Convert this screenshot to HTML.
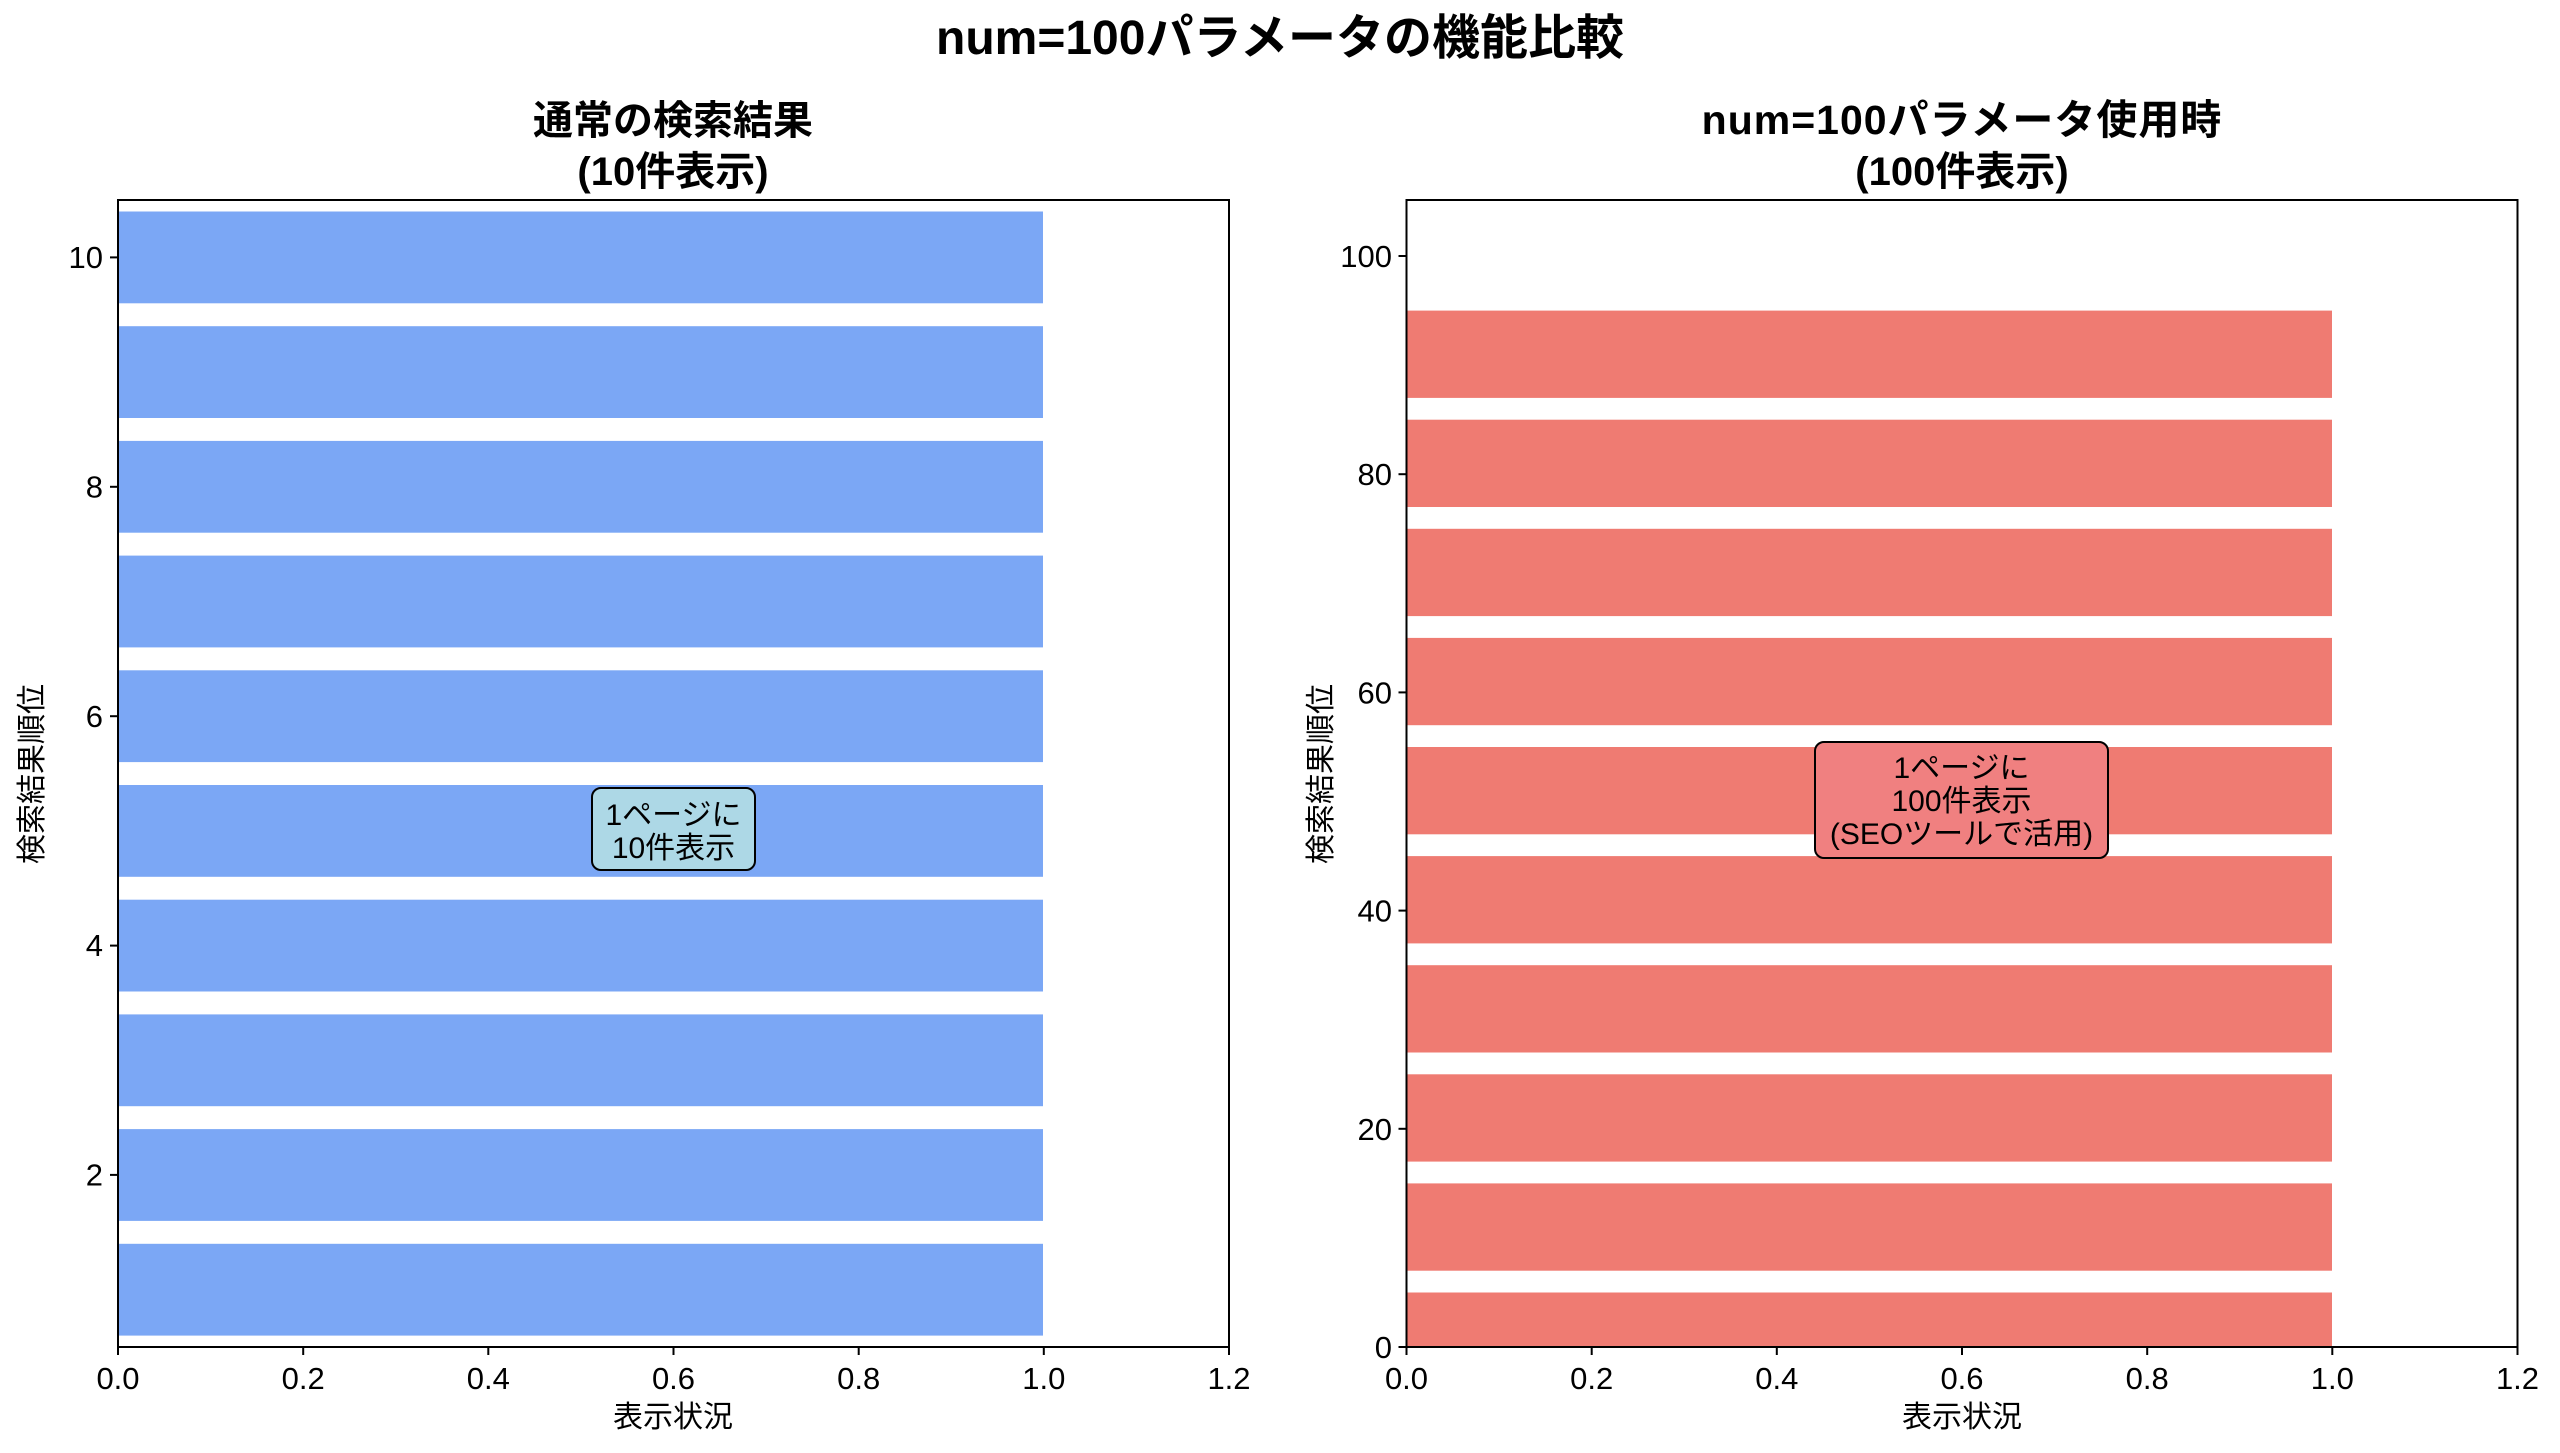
<!DOCTYPE html>
<html><head><meta charset="utf-8"><style>
html,body{margin:0;padding:0;background:#fff}
svg{display:block}
text{font-family:"Liberation Sans","Noto Sans CJK JP",sans-serif;fill:#000}
</style></head><body>
<svg width="2560" height="1453" viewBox="0 0 2560 1453" xmlns="http://www.w3.org/2000/svg">
<rect width="2560" height="1453" fill="#fff"/>
<text x="1280" y="54" font-size="48" font-weight="bold" text-anchor="middle">num=100パラメータの機能比較</text>
<!-- left -->
<text x="673" y="134" font-size="40" font-weight="bold" text-anchor="middle">通常の検索結果</text>
<text x="673" y="185" font-size="40" font-weight="bold" text-anchor="middle">(10件表示)</text>
<g fill="#7ba7f5">
<rect x="118" y="1243.8" width="925" height="91.8"/>
<rect x="118" y="1129.1" width="925" height="91.8"/>
<rect x="118" y="1014.4" width="925" height="91.8"/>
<rect x="118" y="899.7" width="925" height="91.8"/>
<rect x="118" y="785.0" width="925" height="91.8"/>
<rect x="118" y="670.3" width="925" height="91.8"/>
<rect x="118" y="555.6" width="925" height="91.8"/>
<rect x="118" y="440.9" width="925" height="91.8"/>
<rect x="118" y="326.2" width="925" height="91.8"/>
<rect x="118" y="211.5" width="925" height="91.8"/>
</g>
<rect x="118" y="200" width="1111" height="1147" fill="none" stroke="#000" stroke-width="2"/>
<g stroke="#000" stroke-width="2">
<line x1="110" x2="118" y1="1174.9" y2="1174.9"/><line x1="110" x2="118" y1="945.6" y2="945.6"/><line x1="110" x2="118" y1="716.2" y2="716.2"/><line x1="110" x2="118" y1="486.8" y2="486.8"/><line x1="110" x2="118" y1="257.4" y2="257.4"/>
<line x1="118" x2="118" y1="1347" y2="1355"/><line x1="303.2" x2="303.2" y1="1347" y2="1355"/><line x1="488.3" x2="488.3" y1="1347" y2="1355"/><line x1="673.5" x2="673.5" y1="1347" y2="1355"/><line x1="858.7" x2="858.7" y1="1347" y2="1355"/><line x1="1043.8" x2="1043.8" y1="1347" y2="1355"/><line x1="1229" x2="1229" y1="1347" y2="1355"/>
</g>
<g font-size="31" text-anchor="end">
<text x="103" y="1185.5">2</text><text x="103" y="956">4</text><text x="103" y="726.8">6</text><text x="103" y="497.4">8</text><text x="103" y="268">10</text>
</g>
<g font-size="31" text-anchor="middle">
<text x="118" y="1389">0.0</text><text x="303.2" y="1389">0.2</text><text x="488.3" y="1389">0.4</text><text x="673.5" y="1389">0.6</text><text x="858.7" y="1389">0.8</text><text x="1043.8" y="1389">1.0</text><text x="1229" y="1389">1.2</text>
</g>
<text x="673" y="1427" font-size="30" text-anchor="middle">表示状況</text>
<text transform="translate(42,774) rotate(-90)" font-size="30" text-anchor="middle">検索結果順位</text>
<rect x="592" y="788" width="163" height="82" rx="9" fill="#add8e6" stroke="#000" stroke-width="2"/>
<text x="673.5" y="825" font-size="30" text-anchor="middle">1ページに</text>
<text x="673.5" y="858" font-size="30" text-anchor="middle">10件表示</text>
<!-- right -->
<text x="1962" y="134" font-size="41" font-weight="bold" text-anchor="middle" letter-spacing="1">num=100パラメータ使用時</text>
<text x="1962" y="185" font-size="40" font-weight="bold" text-anchor="middle">(100件表示)</text>
<g fill="#ef7b72">
<rect x="1406.5" y="1292.5" width="925.5" height="54.5"/>
<rect x="1406.5" y="1183.4" width="925.5" height="87.3"/>
<rect x="1406.5" y="1074.3" width="925.5" height="87.3"/>
<rect x="1406.5" y="965.2" width="925.5" height="87.3"/>
<rect x="1406.5" y="856.1" width="925.5" height="87.3"/>
<rect x="1406.5" y="747.0" width="925.5" height="87.3"/>
<rect x="1406.5" y="637.9" width="925.5" height="87.3"/>
<rect x="1406.5" y="528.8" width="925.5" height="87.3"/>
<rect x="1406.5" y="419.7" width="925.5" height="87.3"/>
<rect x="1406.5" y="310.6" width="925.5" height="87.3"/>
</g>
<rect x="1406.5" y="200" width="1111" height="1147" fill="none" stroke="#000" stroke-width="2"/>
<g stroke="#000" stroke-width="2">
<line x1="1398.5" x2="1406.5" y1="1347" y2="1347"/><line x1="1398.5" x2="1406.5" y1="1128.8" y2="1128.8"/><line x1="1398.5" x2="1406.5" y1="910.6" y2="910.6"/><line x1="1398.5" x2="1406.5" y1="692.4" y2="692.4"/><line x1="1398.5" x2="1406.5" y1="474.2" y2="474.2"/><line x1="1398.5" x2="1406.5" y1="256" y2="256"/>
<line x1="1406.5" x2="1406.5" y1="1347" y2="1355"/><line x1="1591.7" x2="1591.7" y1="1347" y2="1355"/><line x1="1776.8" x2="1776.8" y1="1347" y2="1355"/><line x1="1962" x2="1962" y1="1347" y2="1355"/><line x1="2147.2" x2="2147.2" y1="1347" y2="1355"/><line x1="2332.3" x2="2332.3" y1="1347" y2="1355"/><line x1="2517.5" x2="2517.5" y1="1347" y2="1355"/>
</g>
<g font-size="31" text-anchor="end">
<text x="1392" y="1358">0</text><text x="1392" y="1139.8">20</text><text x="1392" y="921.6">40</text><text x="1392" y="703.4">60</text><text x="1392" y="485.2">80</text><text x="1392" y="267">100</text>
</g>
<g font-size="31" text-anchor="middle">
<text x="1406.5" y="1389">0.0</text><text x="1591.7" y="1389">0.2</text><text x="1776.8" y="1389">0.4</text><text x="1962" y="1389">0.6</text><text x="2147.2" y="1389">0.8</text><text x="2332.3" y="1389">1.0</text><text x="2517.5" y="1389">1.2</text>
</g>
<text x="1962" y="1427" font-size="30" text-anchor="middle">表示状況</text>
<text transform="translate(1331,774) rotate(-90)" font-size="30" text-anchor="middle">検索結果順位</text>
<rect x="1815" y="742" width="293" height="116" rx="9" fill="#f08080" stroke="#000" stroke-width="2"/>
<text x="1961.5" y="778" font-size="30" text-anchor="middle">1ページに</text>
<text x="1961.5" y="811" font-size="30" text-anchor="middle">100件表示</text>
<text x="1961.5" y="844" font-size="30" text-anchor="middle">(SEOツールで活用)</text>
</svg>
</body></html>
